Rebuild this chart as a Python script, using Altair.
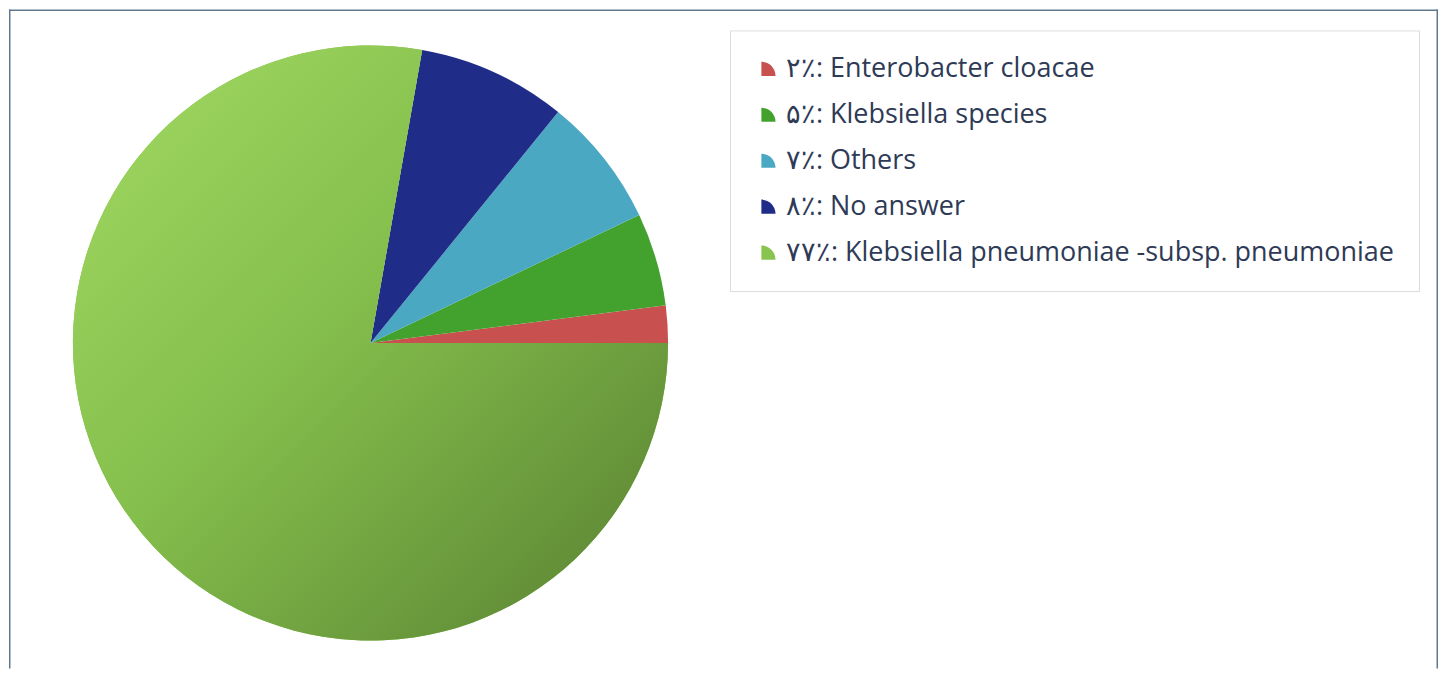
import math
import altair as alt
import pandas as pd

# ---- data ----
names = [
    "Enterobacter cloacae",
    "Klebsiella species",
    "Others",
    "No answer",
    "Klebsiella pneumoniae -subsp. pneumoniae",
]
values = [2, 5, 7, 8, 77]
pct_labels = ["۲", "۵", "۷", "۸", "۷۷"]
colors = ["#C8514F", "#43A22E", "#4AA8C2", "#1F2C88", "#88C44F"]

legend_labels = [f"{p}٪: {n}" for p, n in zip(pct_labels, names)]
df = pd.DataFrame({
    "name": names,
    "value": values,
    "legend": legend_labels,
    "order": list(range(len(names))),
})

W, H = 1431, 660
CX, CY, R = 362, 334, 298

base = (
    alt.Chart(df)
    .transform_window(cum="sum(value)", sort=[{"field": "order"}], frame=[None, 0])
    .transform_joinaggregate(total="sum(value)")
    .transform_calculate(
        t0="(datum.cum - datum.value) / datum.total",
        t1="datum.cum / datum.total",
    )
)

theta = alt.Theta("t0:Q", scale=alt.Scale(domain=[0, 1], range=[2.5 * math.pi, 0.5 * math.pi]))
theta2 = alt.Theta2("t1:Q")

pie = base.mark_arc(outerRadius=R).encode(
    theta=theta,
    theta2=theta2,
    x=alt.value(CX),
    y=alt.value(CY),
    color=alt.Color(
        "legend:N",
        scale=alt.Scale(domain=legend_labels, range=colors),
        sort=legend_labels,
        legend=alt.Legend(
            title=None,
            orient="none",
            legendX=722,
            legendY=21,
            symbolType="M-1,-1 A2,2 0 0,1 1,1 L-1,1 Z",
            symbolSize=200,
            symbolStrokeWidth=0,
            labelFont="Open Sans",
            labelFontSize=27,
            labelColor="#2E3A56",
            labelLimit=1200,
            labelOffset=4,
            rowPadding=18,
            padding=25,
            strokeColor="#DADDE0",
            fillColor="white",
        ),
    ),
)

big = base.transform_filter("datum.order == 4").mark_arc(
    outerRadius=R,
    fill={
        "gradient": "linear",
        "x1": 0, "y1": 0, "x2": 1, "y2": 1,
        "stops": [
            {"offset": 0, "color": "#A2DA62"},
            {"offset": 0.45, "color": "#84BE4C"},
            {"offset": 1, "color": "#587F31"},
        ],
    },
).encode(theta=theta, theta2=theta2, x=alt.value(CX), y=alt.value(CY))

frame_data = alt.Data(values=[{"k": 1}])
frame_color = "#60798F"
left = alt.Chart(frame_data).mark_rule(color=frame_color, strokeWidth=1.5).encode(
    x=alt.value(0.75), y=alt.value(0), y2=alt.value(H))
right = alt.Chart(frame_data).mark_rule(color=frame_color, strokeWidth=1.5).encode(
    x=alt.value(W - 0.75), y=alt.value(0), y2=alt.value(H))
top = alt.Chart(frame_data).mark_rule(color=frame_color, strokeWidth=1.5).encode(
    x=alt.value(0), x2=alt.value(W), y=alt.value(0.75))

chart = (
    alt.layer(pie, big, left, right, top)
    .properties(width=W, height=H, padding=0)
    .configure_view(strokeWidth=0)
)

chart.save("out.html", embed_options={"renderer": "svg", "actions": False})
